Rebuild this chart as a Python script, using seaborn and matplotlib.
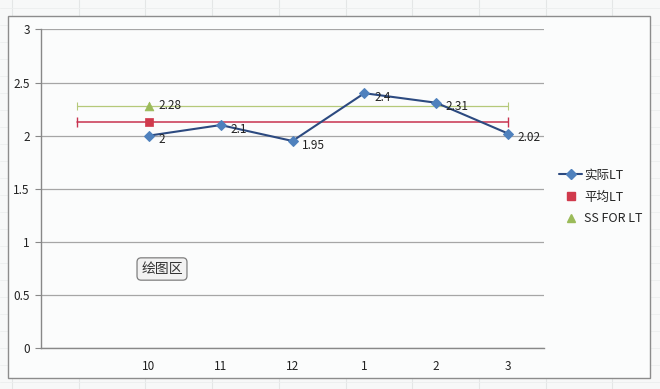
import numpy as np
import matplotlib.pyplot as plt
import seaborn as sns
from matplotlib.patches import Rectangle
from matplotlib.lines import Line2D

# Chart data
categories = ['', '10', '11', '12', '1', '2', '3']
actual_months = ['10', '11', '12', '1', '2', '3']
actual_lt = [2, 2.1, 1.95, 2.4, 2.31, 2.02]
mean_lt = 2.13
ss_for_lt = 2.28
series_names = ['实际LT', '平均LT', 'SS FOR LT']
yticks = [0, 0.5, 1, 1.5, 2, 2.5, 3]

sns.set_style('white')
plt.rcParams['font.family'] = ['Noto Sans CJK SC', 'DejaVu Sans']

W, H = 660, 389
fig = plt.figure(figsize=(W / 100, H / 100), dpi=100)
fig.patch.set_facecolor('#f7f8f8')

# faint spreadsheet grid behind the chart
for x in np.arange(12, W, 66.7):
    fig.add_artist(Line2D([x / W, x / W], [0, 1], color='#e4e6e6', lw=0.8, zorder=-3))
for y in np.arange(8, H, 17):
    fig.add_artist(Line2D([0, 1], [1 - y / H, 1 - y / H], color='#eceeee', lw=0.6, zorder=-3))

# chart area
fig.add_artist(Rectangle((8 / W, 1 - 378 / H), 642 / W, 362 / H, transform=fig.transFigure,
                         facecolor='#fbfcfc', edgecolor='#8c8c8c', lw=1.0, zorder=-1))

ax = fig.add_axes([41 / W, 1 - 348 / H, 503 / W, 318.5 / H])
ax.set_facecolor('none')

pos = {c: i for i, c in enumerate(categories)}
xs = [pos[m] for m in actual_months]

# reference lines spanning all categories, with end caps
ax.plot([0, len(categories) - 1], [ss_for_lt, ss_for_lt], color='#b5c97a', lw=0.9,
        marker='|', markersize=6, markeredgewidth=0.8, zorder=2)
ax.plot([0, len(categories) - 1], [mean_lt, mean_lt], color='#c8334f', lw=1.1,
        marker='|', markersize=7, markeredgewidth=1.0, zorder=2)

sns.lineplot(x=xs, y=actual_lt, ax=ax, color='#2c4a80', lw=1.5, marker='D',
             markersize=5.5, markerfacecolor='#4f81bd', markeredgecolor='#4f81bd', zorder=3)
sns.scatterplot(x=[pos['10']], y=[mean_lt], ax=ax, marker='s', s=40, color='#d03a4c',
                edgecolor='#d03a4c', zorder=4)
sns.scatterplot(x=[pos['10']], y=[ss_for_lt], ax=ax, marker='^', s=40, color='#9bbb59',
                edgecolor='#9bbb59', zorder=4)

lab_kw = dict(fontsize=8.5, color='#222222', va='center', ha='left')
for x, v in zip(xs, actual_lt):
    ax.annotate(f'{v:g}', (x, v), xytext=(7, -3), textcoords='offset points', **lab_kw)
ax.annotate(f'{ss_for_lt:g}', (pos['10'], ss_for_lt), xytext=(7, 0),
            textcoords='offset points', **lab_kw)

ax.set_xlim(-0.5, len(categories) - 0.5)
ax.set_ylim(0, 3)
ax.set_yticks(yticks)
ax.set_yticklabels([f'{t:g}' for t in yticks], fontsize=8.5, color='#222222')
ax.set_xticks(range(len(categories)))
ax.set_xticklabels(categories, fontsize=8.5, color='#222222')
ax.set_xticks(np.arange(0.5, len(categories), 1), minor=True)
ax.tick_params(axis='x', which='major', length=0, pad=9)
ax.tick_params(axis='x', which='minor', length=4, color='#888888', width=0.8)
ax.tick_params(axis='y', length=4, color='#888888', width=0.8, pad=4, left=True)
ax.grid(axis='y', color='#a6a6a6', lw=0.9)
ax.set_axisbelow(True)
for s in ['top', 'right']:
    ax.spines[s].set_visible(False)
for s in ['left', 'bottom']:
    ax.spines[s].set_color('#888888')
    ax.spines[s].set_linewidth(1.0)

handles = [
    Line2D([], [], color='#2c4a80', lw=1.5, marker='D', markersize=5,
           markerfacecolor='#4f81bd', markeredgecolor='#4f81bd'),
    Line2D([], [], lw=0, marker='s', markersize=6, color='#d03a4c'),
    Line2D([], [], lw=0, marker='^', markersize=6, color='#9bbb59'),
]
fig.legend(handles, series_names, loc='center left', bbox_to_anchor=(553 / W, 1 - 197 / H),
           frameon=False, fontsize=9, handlelength=1.8, handletextpad=0.2,
           labelspacing=0.7, borderpad=0)

fig.text(162 / W, 1 - 269 / H, '绘图区', fontsize=10, color='#333333', ha='center', va='center',
         bbox=dict(boxstyle='round,pad=0.3', facecolor='#f2f2f2', edgecolor='#7f7f7f', lw=0.9))

fig.savefig('out.png', dpi=100, facecolor=fig.get_facecolor())
